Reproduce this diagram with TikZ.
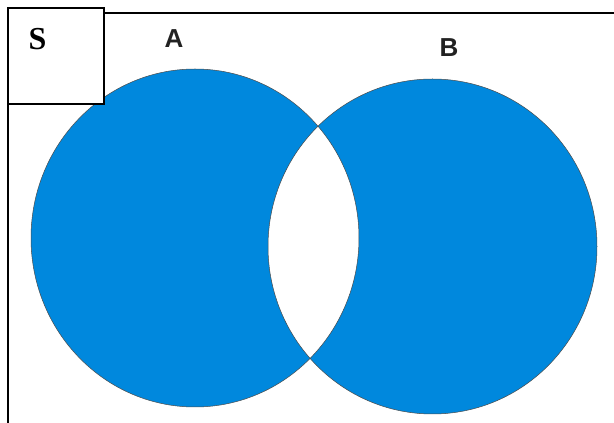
\documentclass[tikz,border=0pt]{standalone}
\usepackage{fontspec}
\setmainfont{Liberation Serif}
\setsansfont{Liberation Sans}
\usepackage{xcolor}
\usetikzlibrary{calc,positioning}

\definecolor{setblue}{RGB}{0,136,221}
\definecolor{labelgray}{RGB}{34,34,34}

\tikzset{
    setlabel/.style={font=\sffamily\bfseries\fontsize{26}{26}\selectfont, text=labelgray},
    setedge/.style={draw=black!70, line width=0.5pt}
}

\begin{document}
\begin{tikzpicture}[x=1pt,y=1pt]

    \useasboundingbox (0,0) rectangle (614,423);

    % Universe
    \draw[line width=1.5pt] (8,0) -- (8,410) -- (614,410);

    % Sets A and B (symmetric difference)
    \fill[setblue, even odd rule]
        (195,185) ellipse (164 and 169)
        (432.5,176.5) ellipse (164.5 and 167.5);
    \draw[setedge] (195,185) ellipse (164 and 169);
    \draw[setedge] (432.5,176.5) ellipse (164.5 and 167.5);

    % Label box
    \draw[line width=1.5pt, fill=white] (8,415) rectangle (104,319);
    \node[font=\bfseries\fontsize{32}{32}\selectfont] (S) at (37.5,383.5) {S};

    \node[setlabel] (A) at (174,384) {A};
    \node[setlabel] (B) at (449,375.5) {B};

\end{tikzpicture}
\end{document}
